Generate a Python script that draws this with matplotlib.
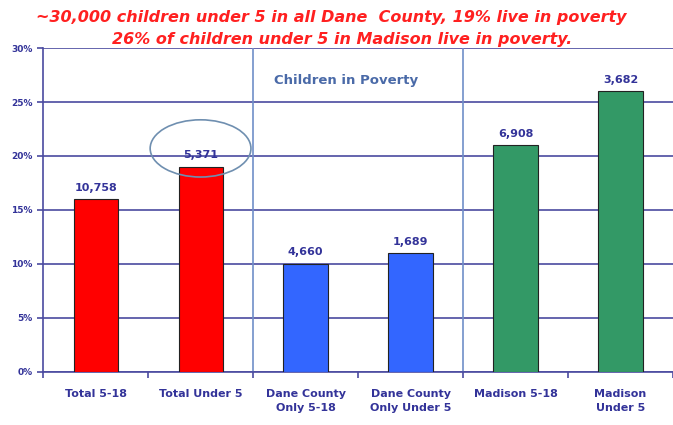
import matplotlib.pyplot as plt
import numpy as np
from matplotlib.patches import Ellipse

# data
categories = ["Total 5-18", "Total Under 5", "Dane County\nOnly 5-18",
              "Dane County\nOnly Under 5", "Madison 5-18", "Madison\nUnder 5"]
pct_poverty = [16, 19, 10, 11, 21, 26]
counts = ["10,758", "5,371", "4,660", "1,689", "6,908", "3,682"]
bar_colors = ["#ff0000", "#ff0000", "#3366ff", "#3366ff", "#339966", "#339966"]

navy = "#333399"
grid_c = "#4a4aa0"

fig = plt.figure(figsize=(6.73, 4.25), dpi=100)
ax = fig.add_axes([0.064, 0.125, 0.936, 0.762])

x = np.arange(len(categories))
bars = ax.bar(x, pct_poverty, width=0.42, color=bar_colors,
              edgecolor="#222222", linewidth=0.8, zorder=3)

for b, c in zip(bars, counts):
    ax.text(b.get_x() + b.get_width() / 2, b.get_height() + 0.6, c,
            ha="center", va="bottom", fontsize=8, fontweight="bold",
            color=navy, zorder=4)

ax.set_xlim(-0.5, len(categories) - 0.5)
ax.set_ylim(0, 30)
ax.set_yticks(range(0, 31, 5))
ax.set_yticklabels([f"{v}%" for v in range(0, 31, 5)], fontsize=6.5,
                   fontweight="bold", color=navy)
ax.yaxis.grid(True, color=grid_c, linewidth=1.2, zorder=0)
ax.set_axisbelow(True)

# group separators
for sep in [1.5, 3.5]:
    ax.axvline(sep, color="#6f8fc8", linewidth=1.2, zorder=1)

ax.set_xticks(x)
ax.set_xticklabels(categories, fontsize=8, fontweight="bold", color=navy,
                   linespacing=1.6)
ax.set_xticks(np.arange(-0.5, len(categories), 1), minor=True)
ax.tick_params(axis="x", which="major", length=0, pad=12)
ax.tick_params(axis="x", which="minor", length=4, color=grid_c, width=1.2)
ax.tick_params(axis="y", length=4, color=grid_c, width=1.2)

for s in ["top", "right"]:
    ax.spines[s].set_visible(False)
for s in ["left", "bottom"]:
    ax.spines[s].set_color(grid_c)
    ax.spines[s].set_linewidth(1.2)

ax.text(2.39, 27.0, "Children in Poverty", ha="center", va="center",
        fontsize=9.5, fontweight="bold", color="#4a6aa8")

ell = Ellipse((1.0, 20.7), width=0.96, height=5.3, fill=False,
              edgecolor="#6f8fb0", linewidth=1.2, zorder=5)
ax.add_patch(ell)

fig.text(0.492, 0.958, "~30,000 children under 5 in all Dane  County, 19% live in poverty",
         ha="center", va="center", fontsize=11.5, fontweight="bold",
         fontstyle="italic", color="#ff2020")
fig.text(0.508, 0.906, "26% of children under 5 in Madison live in poverty.",
         ha="center", va="center", fontsize=11.5, fontweight="bold",
         fontstyle="italic", color="#ff2020", zorder=10)

fig.savefig("out.png", dpi=100)
